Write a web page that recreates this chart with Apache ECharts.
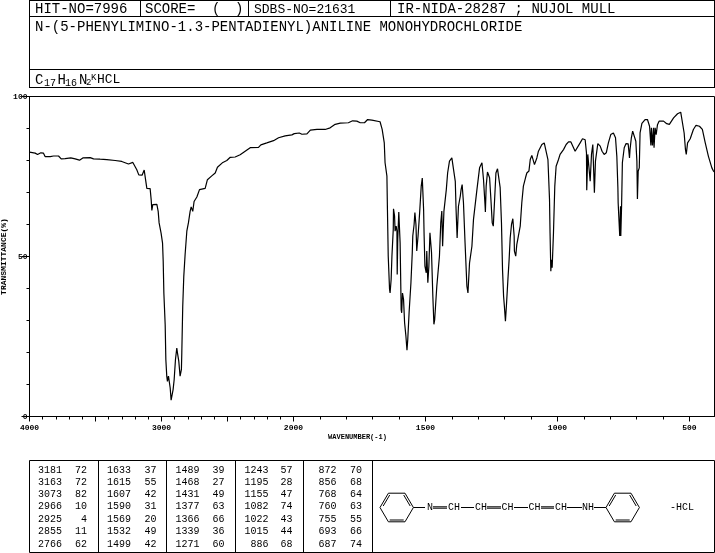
<!DOCTYPE html>
<html><head><meta charset="utf-8">
<style>html,body{margin:0;padding:0;background:#fff}#c{width:715px;height:553px}</style>
<script src="https://cdn.jsdelivr.net/npm/echarts@6/dist/echarts.min.js"></script>
</head><body><div id="c"></div>
<script>
const wavenumbers=[4000,3957,3939,3914,3894,3881,3843,3818,3780,3760,3730,3687,3654,3621,3596,3540,3515,3465,3414,3351,3301,3250,3217,3202,3187,3172,3147,3131,3121,3111,3086,3078,3073,3066,3055,3035,3025,3018,3003,2992,2987,2982,2972,2967,2960,2955,2947,2940,2934,2927,2917,2912,2904,2894,2884,2879,2869,2859,2854,2849,2846,2839,2831,2821,2808,2796,2783,2775,2763,2753,2732,2712,2669,2652,2619,2593,2576,2535,2505,2479,2442,2404,2366,2328,2265,2247,2202,2151,2113,2063,2012,1997,1978,1968,1949,1936,1911,1880,1861,1842,1823,1792,1776,1760,1747,1731,1719,1703,1697,1672,1664,1656,1653,1646,1644,1641,1636,1634,1630,1627,1622,1621,1617,1615,1611,1608,1607,1605,1601,1598,1596,1592,1590,1587,1583,1579,1574,1570,1567,1562,1555,1550,1548,1543,1540,1536,1533,1528,1522,1516,1512,1507,1505,1502,1497,1495,1491,1487,1483,1477,1472,1468,1465,1457,1447,1442,1438,1435,1430,1421,1416,1409,1400,1394,1387,1384,1380,1375,1368,1365,1361,1356,1350,1343,1339,1333,1324,1318,1305,1295,1286,1280,1274,1273,1270,1265,1257,1252,1247,1243,1238,1233,1227,1222,1217,1212,1208,1204,1201,1197,1193,1188,1183,1179,1174,1169,1166,1164,1163,1158,1154,1148,1141,1135,1129,1121,1116,1108,1103,1097,1091,1087,1083,1078,1072,1059,1050,1043,1036,1030,1028,1025,1023,1020,1017,1015,1010,1005,996,990,977,967,958,949,933,914,905,895,890,889,885,879,876,871,866,863,860,856,851,847,838,831,823,815,807,798,788,780,775,771,770,765,764,761,760,757,754,747,740,732,727,725,720,715,708,703,699,697,694,690,687,680,668,659,651,646,644,640,636,634,630,626,621,615,598,586,576,560,545,533,526,520,515,512,507,497,485,475,462,451,440,428,415,409,405];
const transmittance=[82.6,82.3,81.9,82.4,82.3,81.2,81.2,81.4,81.4,80.5,80.6,80.8,80.5,80.1,80.8,80.9,80.5,80.4,80.3,80.0,79.7,78.9,79.4,79.0,77.1,75.5,75.4,77.0,76.8,71.3,71.2,67.7,64.4,66.2,66.7,66.3,64.1,60.5,57.3,54.2,48.5,38.6,28.7,17.8,12.6,11.0,12.6,12.1,8.9,5.1,4.9,8.4,11.5,17.8,21.4,19.9,17.3,12.6,12.1,14.7,19.9,34.4,43.8,50.6,57.9,60.5,64.1,65.5,64.1,67.2,68.6,70.9,71.3,74.0,75.2,76.1,77.9,79.4,80.0,81.0,81.1,81.8,82.9,84.0,84.1,84.9,85.5,86.2,87.1,87.7,88.0,88.4,88.6,88.2,88.3,89.5,89.7,89.7,90.2,91.3,91.7,91.8,92.4,92.3,91.8,91.8,92.8,92.6,92.5,92.1,89.7,85.5,79.3,75.1,64.7,50.1,39.7,38.6,42.8,50.1,58.4,64.9,62.6,57.9,59.5,57.9,44.4,55.3,63.9,63.6,54.3,33.4,32.4,38.6,36.6,29.3,25.1,20.7,24.1,32.4,41.8,51.1,56.4,60.0,63.7,60.0,51.7,56.4,63.7,72.0,74.5,64.7,56.4,47.0,44.9,51.7,41.8,47.0,57.4,51.2,37.6,28.8,30.3,40.7,50.1,60.5,64.2,53.2,64.2,70.9,76.1,79.8,80.8,80.5,73.5,64.7,55.8,65.7,68.9,70.9,72.5,66.8,54.3,40.7,38.6,48.0,53.2,61.6,70.9,77.7,79.3,74.0,65.7,63.9,72.0,76.4,74.6,67.8,60.5,59.5,67.8,76.1,77.4,77.2,71.5,60.5,45.9,37.6,34.5,29.8,35.0,42.3,49.1,55.8,60.0,61.8,61.8,56.4,51.7,50.1,53.7,56.4,59.5,66.8,72.0,74.6,76.1,76.7,80.3,81.6,81.6,78.7,78.2,80.8,82.9,85.0,85.5,85.3,80.3,67.8,57.4,45.4,49.0,46.5,47.0,57.4,72.0,78.2,80.3,81.9,83.4,85.0,85.8,85.8,82.9,85.5,86.8,86.5,82.4,70.7,81.9,81.9,73.5,81.9,85.0,84.5,69.9,79.8,80.3,85.3,84.5,82.9,81.9,82.4,85.5,88.1,88.6,87.1,81.3,71.5,66.8,66.2,56.4,65.7,56.4,65.7,79.3,84.0,85.3,85.2,80.8,83.4,87.1,89.2,89.2,86.0,79.8,68.0,76.7,77.7,88.6,91.6,92.8,92.8,90.7,84.7,90.2,84.7,90.2,84.0,90.2,88.1,91.2,92.3,92.3,91.5,91.3,93.3,94.6,95.1,94.7,88.6,83.4,81.9,85.5,86.8,89.7,91.0,90.7,89.7,85.5,81.3,77.7,76.7,76.4];
const labelTicks=[4000,3000,2000,1500,1000,500];
const majorTicks=[4000,3500,3000,2500,2000,1500,1000,500];
const minorTicks=[3900,3800,3700,3600,3400,3300,3200,3100,2900,2800,2700,2600,2400,2300,2200,2100,1900,1800,1700,1600,1400,1300,1200,1100,900,800,700,600];
const headerCells=["HIT-NO=7996","SCORE=","SDBS-NO=21631","IR-NIDA-28287 ; NUJOL MULL"];
const compoundName="N-(5-PHENYLIMINO-1.3-PENTADIENYL)ANILINE MONOHYDROCHLORIDE";
const peakWavenumbers=[[3181,3163,3073,2966,2925,2855,2766],[1633,1615,1607,1590,1569,1532,1499],[1489,1468,1431,1377,1366,1339,1271],[1243,1195,1155,1082,1022,1015,886],[872,856,768,760,755,693,687]];
const peakValues=[[72,72,82,10,4,11,62],[37,55,42,31,20,49,42],[39,27,49,63,66,36,60],[57,28,47,74,43,44,68],[70,68,64,63,55,66,74]];

// The abscissa changes scale at 2000 cm-1, as the printed spectrum does.
const toPos=w=>w>=2000?(4000-w)/2:1000+(2000-w);
const toWn=p=>p<=1000?4000-2*p:2000-(p-1000);
const F='"Liberation Mono",monospace';
const g=[];
const line=(x1,y1,x2,y2,w)=>g.push({type:'line',silent:true,shape:{x1,y1,x2,y2},style:{stroke:'#000',lineWidth:w||1}});
const text=(x,y,t,size,align,weight)=>g.push({type:'text',silent:true,x,y,style:{text:t,font:(weight||'normal')+' '+size+'px '+F,fill:'#000',textAlign:align||'left',textVerticalAlign:'middle'}});
// header
[[29.5,0.5,714.5,0.5],[29.5,16.5,714.5,16.5],[29.5,69.5,714.5,69.5],[29.5,87.5,714.5,87.5],[29.5,0,29.5,88],[714.5,0,714.5,88],[140.5,0,140.5,17],[248.5,0,248.5,17],[390.5,0,390.5,17]].forEach(a=>line(...a));
text(35,9.5,headerCells[0],14);
text(145,9.5,headerCells[1],14);text(212,9.5,'(',14);text(235,9.5,')',14);
text(254,9.5,headerCells[2],13);
text(397,9.5,headerCells[3],14);
text(35,27.5,compoundName,14);
text(35,80,'C',14);text(44,83,'17',10);text(57.5,80,'H',14);text(65,83,'16',10);text(79,80,'N',14);text(86,83,'2',9);text(91,78,'K',9);text(97,80,'HCL',13);
// peak table
[[29.5,460.5,714.5,460.5],[29.5,552.5,714.5,552.5],[29.5,460.5,29.5,552.5],[714.5,460.5,714.5,552.5],[98.5,460.5,98.5,552.5],[166.5,460.5,166.5,552.5],[235.5,460.5,235.5,552.5],[303.5,460.5,303.5,552.5],[372.5,460.5,372.5,552.5]].forEach(a=>line(...a));
const rowY=[470,482,494.5,506.5,519,531.5,544],waveX=[62,131,199.5,268.5,336.5],valX=[87,156.5,224.5,292.5,362];
peakWavenumbers.forEach((col,i)=>col.forEach((w,j)=>{text(waveX[i],rowY[j],String(w),10,'right');text(valX[i],rowY[j],String(peakValues[i][j]),10,'right');}));
// structure
const ring=(cx)=>{const c=507.5,p=[[cx-16.7,c],[cx-8.3,c-14.3],[cx+8.3,c-14.3],[cx+16.7,c],[cx+8.3,c+14.3],[cx-8.3,c+14.3]];
 p.forEach((a,i)=>{const b=p[(i+1)%6];line(a[0],a[1],b[0],b[1]);});
 line(cx-13.5,c-1.5,cx-7,c-12.5);line(cx+7,c-12.5,cx+13.5,c-1.5);line(cx-7,c+12.5,cx+7,c+12.5);};
ring(396.7);ring(622.7);
const by=507.5;
line(413.4,by,425,by);line(433,by-.7,447,by-.7);line(433,by+.7,447,by+.7);line(461,by,474,by);line(487,by-.7,501,by-.7);line(487,by+.7,501,by+.7);line(514,by,528,by);line(541,by-.7,554,by-.7);line(541,by+.7,554,by+.7);line(567,by,582,by);line(594,by,606,by);
[[430,'N'],[454,'CH'],[481,'CH'],[507.5,'CH'],[534.5,'CH'],[561,'CH'],[588,'NH']].forEach(a=>text(a[0],by,a[1],10,'center'));
text(670,by,'-HCL',10);

const hiddenBits={axisLine:{show:false},splitLine:{show:false}};
const chart=echarts.init(document.getElementById('c'),null,{renderer:'canvas'});
chart.setOption({
 animation:false,backgroundColor:'#fff',
 grid:{left:29.5,top:96.5,width:685,height:320,show:true,borderColor:'#000',borderWidth:1,backgroundColor:'transparent',outerBoundsMode:'none',containLabel:false},
 xAxis:[
  {type:'value',min:0,max:2595,position:'bottom',name:'WAVENUMBER(-1)',nameLocation:'middle',nameGap:17,nameMoveOverlap:false,
   nameTextStyle:{fontFamily:F,fontSize:7,color:'#000',fontWeight:'bold',padding:[0,29,0,0]},
   axisLine:{lineStyle:{color:'#000',width:1}},splitLine:{show:false},
   axisTick:{length:5,lineStyle:{color:'#000',width:1},customValues:majorTicks.map(toPos)},
   axisLabel:{fontFamily:F,fontSize:8,fontWeight:'bold',color:'#000',margin:7,customValues:labelTicks.map(toPos),formatter:v=>String(Math.round(toWn(v))),hideOverlap:false}},
  {type:'value',min:0,max:2595,position:'bottom',...hiddenBits,
   axisTick:{length:3,lineStyle:{color:'#000',width:1},customValues:minorTicks.map(toPos)},
   axisLabel:{show:false}}
 ],
 yAxis:[
  {type:'value',min:0,max:100,interval:50,position:'left',name:'TRANSMITTANCE(%)',nameLocation:'middle',nameGap:22,nameRotate:90,nameMoveOverlap:false,
   nameTextStyle:{fontFamily:F,fontSize:8,fontWeight:'bold',color:'#000'},
   axisLine:{show:true,lineStyle:{color:'#000',width:1}},splitLine:{show:false},
   axisTick:{show:true,length:8,lineStyle:{color:'#000',width:1}},
   axisLabel:{fontFamily:F,fontSize:8,fontWeight:'bold',color:'#000',margin:2,showMinLabel:true,showMaxLabel:true}},
  {type:'value',min:0,max:100,interval:10,position:'left',...hiddenBits,
   axisTick:{show:true,length:3,lineStyle:{color:'#000',width:1}},axisLabel:{show:false}}
 ],
 series:[{type:'line',data:wavenumbers.map((w,i)=>[toPos(w),transmittance[i]]),xAxisIndex:0,yAxisIndex:0,showSymbol:false,symbol:'none',smooth:false,lineStyle:{color:'#000',width:1.2}}],
 graphic:g
});
</script></body></html>
